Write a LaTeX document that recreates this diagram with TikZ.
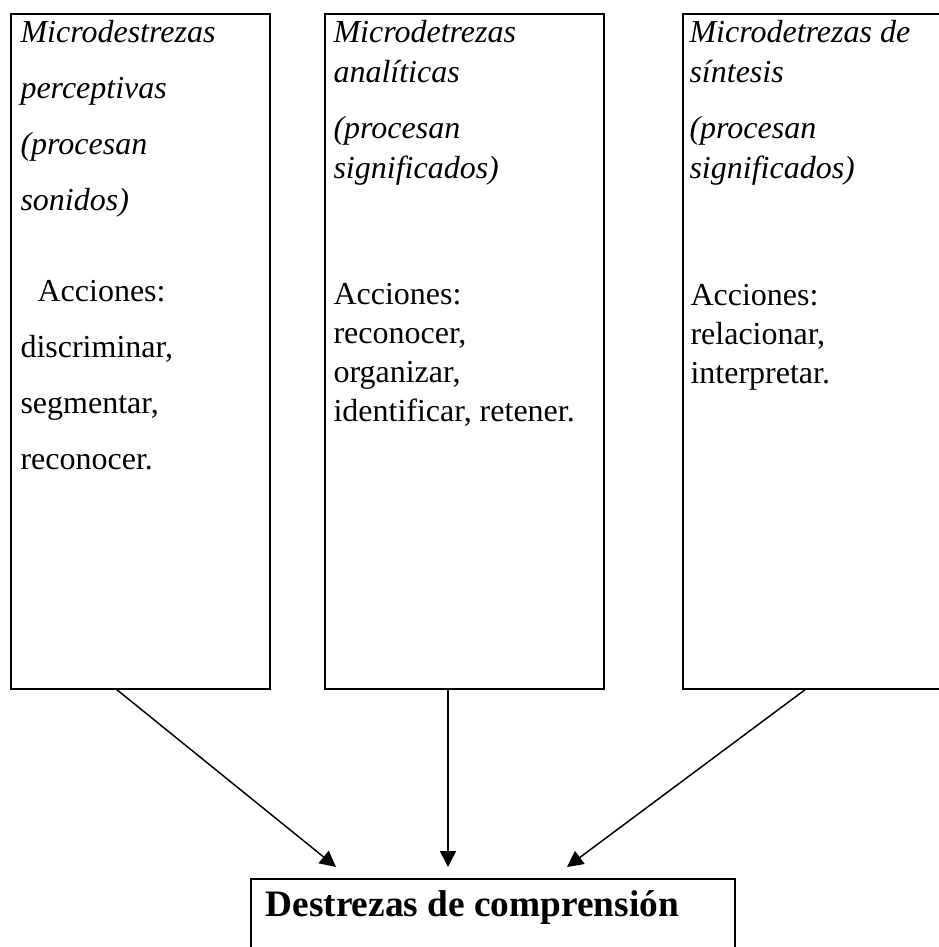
\documentclass[tikz,border=0pt]{standalone}
\usepackage{fontspec}
\setmainfont{Liberation Serif}
\usepackage{tikz}
\usetikzlibrary{arrows.meta}
\newcommand{\unidad}{0.375pt}

\begin{document}
\begin{tikzpicture}[x=0.375pt, y=-0.375pt,
        caja/.style={draw, line width=0.75pt, inner sep=0pt, outer sep=0pt},
        texto/.style={anchor=base west, align=left, inner sep=0pt},
        flecha/.style={line width=0.55pt, -{Triangle[length=6pt, width=6pt]}}]
        \clip (0,0) rectangle (939,947);

        \node[caja, minimum width=259*\unidad, minimum height=675*\unidad] (perc) at (140.5,351.5) {};
        \node[caja, minimum width=279*\unidad, minimum height=675*\unidad] (anal) at (464.5,351.5) {};
        \node[caja, minimum width=277*\unidad, minimum height=675*\unidad] (sint) at (821.5,351.5) {};
        \node[caja, minimum width=484*\unidad, minimum height=101*\unidad] (dest) at (493,929.5) {};

        % base = last line of each block
        \node[texto, font=\fontsize{12pt}{20.9pt}\selectfont\itshape] (t1) at (20,210) {Microdestrezas\\perceptivas\\(procesan\\sonidos)};
        \node[texto, font=\fontsize{12pt}{20.9pt}\selectfont] (t2) at (20,469) {\hspace*{6.4pt}Acciones:\\discriminar,\\segmentar,\\reconocer.};
        \node[texto, font=\fontsize{12pt}{15pt}\selectfont\itshape] (t3) at (333,82) {Microdetrezas\\analíticas};
        \node[texto, font=\fontsize{12pt}{15pt}\selectfont\itshape] (t4) at (333,178) {(procesan\\significados)};
        \node[texto, font=\fontsize{12pt}{14.6pt}\selectfont] (t5) at (333,421) {Acciones:\\reconocer,\\organizar,\\identificar, retener.};
        \node[texto, font=\fontsize{12pt}{15pt}\selectfont\itshape] (t6) at (689,82) {Microdetrezas de\\síntesis};
        \node[texto, font=\fontsize{12pt}{15pt}\selectfont\itshape] (t7) at (689,178) {(procesan\\significados)};
        \node[texto, font=\fontsize{12pt}{14.6pt}\selectfont] (t8) at (690,383) {Acciones:\\relacionar,\\interpretar.};
        \node[texto, font=\fontsize{14pt}{17pt}\selectfont\bfseries] (t9) at (265,916) {Destrezas de comprensión};

        \coordinate (f1) at (336,867);
        \coordinate (f2) at (448,867);
        \coordinate (f3) at (567,867);
        \draw[flecha] ([xshift=-24.5*\unidad]perc.south) -- (f1);
        \draw[flecha] ([xshift=-16.5*\unidad]anal.south) -- (f2);
        \draw[flecha] ([xshift=-15.5*\unidad]sint.south) -- (f3);
    \end{tikzpicture}
\end{document}
